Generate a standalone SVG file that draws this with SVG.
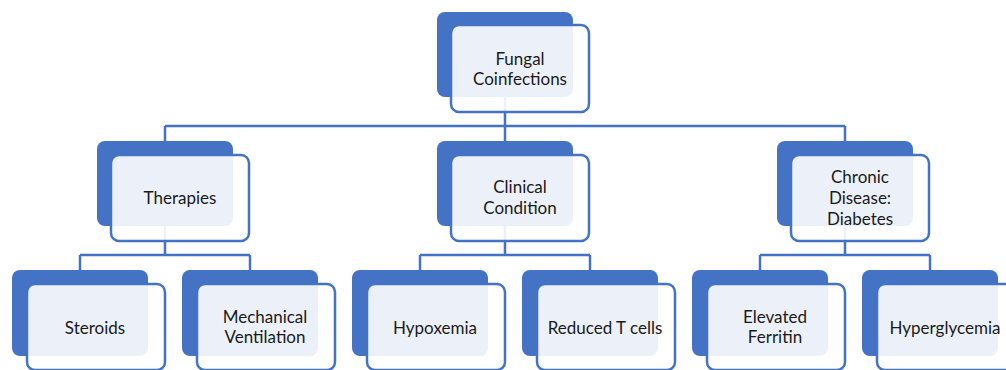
<svg xmlns="http://www.w3.org/2000/svg" width="1006" height="370" viewBox="0 0 1006 370">
<style>
.back{fill:#4472c4;}
.front{fill:#ffffff;fill-opacity:0.9;stroke:#4472c4;stroke-width:2.5;}
.lbl{font-family:"Lato","Liberation Sans",sans-serif;font-size:17px;fill:#1a1a1a;text-anchor:middle;}
.conn{fill:none;stroke:#4472c4;stroke-width:2.5;}
</style>
<rect width="1006" height="370" fill="#ffffff"/>
<g id="connectors">
<path class="conn" d="M505,97 V126 M165,126 H845 M165,126 V141 M505,126 V141 M845,126 V141"/>
<path class="conn" d="M165,226 V255 M80,255 H250 M80,255 V270 M250,255 V270"/>
<path class="conn" d="M505,226 V255 M420,255 H590 M420,255 V270 M590,255 V270"/>
<path class="conn" d="M845,226 V255 M760,255 H930 M760,255 V270 M930,255 V270"/>
</g>
<g id="fungal">
<rect class="back" x="437" y="12" width="136" height="85" rx="8"/>
<rect class="front" x="451" y="25" width="138" height="87" rx="8"/>
<text class="lbl" x="520" y="65">Fungal</text>
<text class="lbl" x="520" y="85">Coinfections</text>
</g>
<g id="therapies">
<rect class="back" x="97" y="141" width="136" height="85" rx="8"/>
<rect class="front" x="111" y="155" width="138" height="86" rx="8"/>
<text class="lbl" x="180" y="204">Therapies</text>
</g>
<g id="clinical">
<rect class="back" x="437" y="141" width="136" height="85" rx="8"/>
<rect class="front" x="451" y="155" width="138" height="86" rx="8"/>
<text class="lbl" x="520" y="193">Clinical</text>
<text class="lbl" x="520" y="214">Condition</text>
</g>
<g id="chronic">
<rect class="back" x="777" y="141" width="136" height="85" rx="8"/>
<rect class="front" x="791" y="155" width="138" height="86" rx="8"/>
<text class="lbl" x="860" y="183">Chronic</text>
<text class="lbl" x="860" y="204">Disease:</text>
<text class="lbl" x="860" y="225">Diabetes</text>
</g>
<g id="steroids">
<rect class="back" x="12" y="270" width="136" height="86" rx="8"/>
<rect class="front" x="27" y="284" width="138" height="86" rx="8"/>
<text class="lbl" x="95" y="334">Steroids</text>
</g>
<g id="mechanical">
<rect class="back" x="182" y="270" width="136" height="86" rx="8"/>
<rect class="front" x="197" y="284" width="138" height="86" rx="8"/>
<text class="lbl" x="265" y="323">Mechanical</text>
<text class="lbl" x="265" y="343">Ventilation</text>
</g>
<g id="hypoxemia">
<rect class="back" x="352" y="270" width="136" height="86" rx="8"/>
<rect class="front" x="367" y="284" width="138" height="86" rx="8"/>
<text class="lbl" x="435" y="334">Hypoxemia</text>
</g>
<g id="reduced">
<rect class="back" x="522" y="270" width="136" height="86" rx="8"/>
<rect class="front" x="537" y="284" width="138" height="86" rx="8"/>
<text class="lbl" x="605" y="334">Reduced T cells</text>
</g>
<g id="ferritin">
<rect class="back" x="692" y="270" width="136" height="86" rx="8"/>
<rect class="front" x="707" y="284" width="138" height="86" rx="8"/>
<text class="lbl" x="775" y="323">Elevated</text>
<text class="lbl" x="775" y="343">Ferritin</text>
</g>
<g id="hyperglycemia">
<rect class="back" x="862" y="270" width="136" height="86" rx="8"/>
<rect class="front" x="877" y="284" width="138" height="86" rx="8"/>
<text class="lbl" x="945" y="334">Hyperglycemia</text>
</g>
</svg>
